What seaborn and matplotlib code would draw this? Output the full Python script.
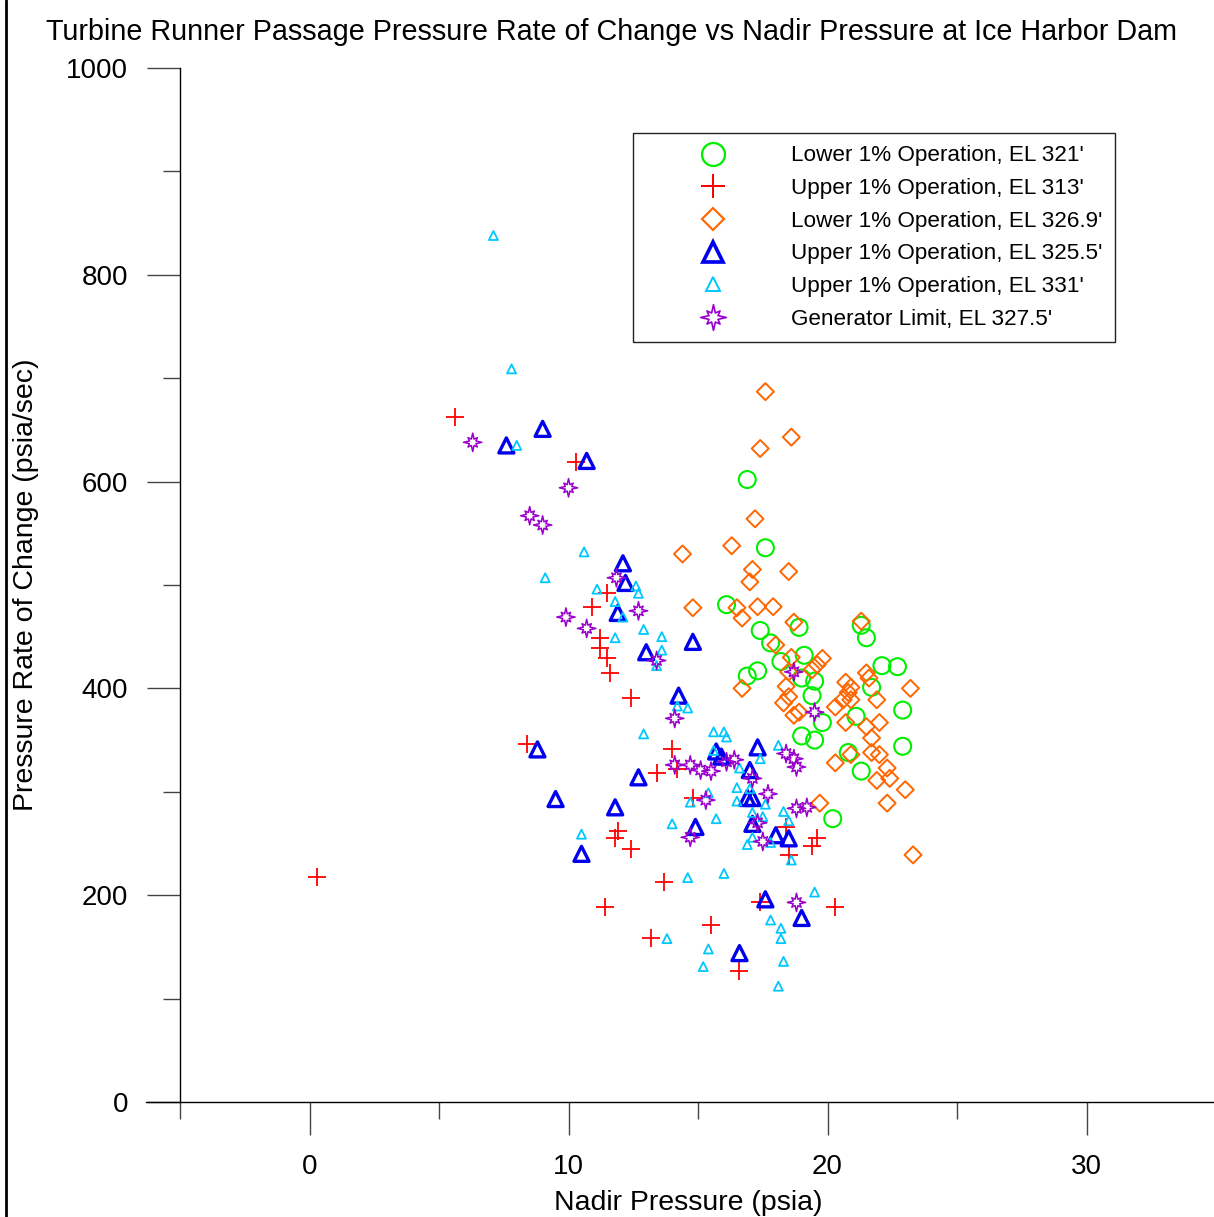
import numpy as np
import pandas as pd
import matplotlib
matplotlib.use("Agg")
import matplotlib.pyplot as plt
import seaborn as sns
from matplotlib.path import Path
from matplotlib.lines import Line2D

# nadir pressure (psia) / rate of change (psia/sec)
low321_x = [16.9, 17.6, 16.1, 17.4, 17.8, 18.9, 21.3, 21.5, 19.1, 18.2, 22.1, 22.7, 16.9, 17.3,
            19.5, 19.0, 19.4, 21.7, 22.9, 21.1, 19.8, 19.0, 19.5, 20.8, 22.9, 21.3, 20.2]
low321_y = [602, 536, 481, 456, 444, 459, 461, 449, 432, 426, 422, 421, 412, 417,
            407, 410, 393, 401, 379, 373, 367, 354, 350, 338, 344, 320, 274]

up313_x = [0.3, 5.6, 10.3, 8.4, 11.5, 10.9, 11.2, 11.2, 11.5, 11.6, 12.4, 11.9, 11.8, 12.4, 11.4,
           13.2, 14.0, 13.4, 14.2, 14.8, 18.4, 19.4, 19.6, 18.5, 13.7, 15.5, 17.4, 16.6, 20.3]
up313_y = [218, 662, 619, 346, 492, 479, 449, 439, 429, 415, 391, 262, 255, 245, 189,
           159, 341, 318, 322, 294, 266, 248, 255, 239, 213, 171, 193, 127, 189]

low3269_x = [17.6, 18.6, 17.4, 17.2, 16.3, 14.4, 17.1, 17.0, 18.5, 14.8, 16.5, 16.7, 17.3, 17.9,
             18.7, 21.3, 18.0, 18.6, 19.8, 19.6, 19.4, 16.7, 20.7, 20.9, 21.5, 21.6, 20.8, 20.6,
             20.9, 20.3, 23.2, 21.9, 20.7, 22.0, 21.5, 21.7, 21.7, 22.0, 20.9, 20.3, 22.3, 21.9,
             22.4, 23.0, 22.3, 19.7, 23.3, 18.4, 18.5, 18.3, 18.7, 18.9, 18.5]
low3269_y = [687, 643, 632, 564, 538, 530, 515, 503, 513, 478, 478, 468, 479, 479,
             464, 465, 442, 430, 429, 423, 418, 400, 406, 401, 415, 410, 396, 389,
             389, 382, 400, 389, 367, 367, 363, 352, 338, 336, 336, 328, 323, 311,
             313, 302, 289, 289, 239, 402, 392, 386, 374, 377, 416]

up3255_x = [7.6, 9.0, 10.7, 12.1, 12.2, 11.9, 13.0, 14.8, 14.25, 8.8, 12.7, 9.5, 11.8, 10.5,
            17.3, 15.7, 15.9, 17.0, 16.9, 17.1, 14.9, 17.1, 18.0, 18.5, 17.6, 19.0, 16.6]
up3255_y = [635, 651, 620, 521, 502, 473, 435, 445, 393, 341, 314, 293, 285, 240,
            343, 339, 334, 321, 294, 294, 266, 269, 258, 255, 196, 178, 144]

up331_x = [7.1, 7.8, 8.0, 9.1, 10.6, 11.1, 12.6, 12.7, 11.8, 12.1, 12.9, 11.8, 13.6, 13.6, 13.4,
           14.2, 14.6, 12.9, 15.6, 16.0, 16.1, 15.6, 18.1, 17.4, 16.6, 16.5, 17.0, 16.5, 17.6,
           18.3, 18.5, 17.5, 17.1, 14.7, 15.4, 14.0, 15.7, 17.1, 16.9, 17.8, 18.6, 16.0, 14.6,
           19.5, 17.8, 18.2, 18.2, 13.8, 15.4, 15.2, 18.3, 18.1, 10.5]
up331_y = [838, 709, 635, 507, 532, 496, 499, 492, 484, 469, 457, 449, 450, 437, 422,
           383, 381, 356, 358, 358, 353, 340, 345, 332, 323, 304, 303, 291, 288,
           281, 272, 276, 280, 290, 299, 269, 274, 256, 249, 251, 234, 221, 217,
           203, 176, 168, 158, 158, 148, 131, 136, 112, 259]

gen_x = [6.3, 8.5, 9.0, 10.0, 9.9, 10.7, 11.85, 12.7, 13.4, 14.1, 14.1, 14.7, 15.1, 15.5, 16.1,
         16.4, 15.3, 14.7, 17.1, 17.7, 17.3, 17.5, 18.4, 18.7, 18.8, 18.8, 19.2, 19.5, 18.8, 18.7]
gen_y = [638, 567, 558, 594, 469, 458, 507, 475, 427, 371, 326, 326, 321, 320, 329,
         331, 292, 256, 313, 298, 270, 252, 337, 332, 324, 284, 285, 377, 193, 416]

labels = ["Lower 1% Operation, EL 321'", "Upper 1% Operation, EL 313'",
          "Lower 1% Operation, EL 326.9'", "Upper 1% Operation, EL 325.5'",
          "Upper 1% Operation, EL 331'", "Generator Limit, EL 327.5'"]

# 8 point star marker, long spikes on the axes
ang = np.deg2rad(90 + 22.5 * np.arange(16))
rad = np.tile([1.0, 0.38, 0.72, 0.38], 4)
star_verts = np.column_stack([rad * np.cos(ang), rad * np.sin(ang)])
star = Path(np.vstack([star_verts, star_verts[:1]]), closed=True)

sns.set_theme(style="white")
plt.rcParams["font.family"] = ["Liberation Sans", "DejaVu Sans"]
plt.rcParams["text.color"] = "black"
plt.rcParams["axes.labelcolor"] = "black"

W, H = 1214, 1217
fig = plt.figure(figsize=(W / 100, H / 100), dpi=100)
ax = fig.add_axes([146 / W, 115 / H, 1068 / W, 1034 / H])

# series: x, y, marker, size, colour, linewidth, legend markersize
series = [
    (low321_x, low321_y, "o", 149, "#00ee00", 1.5, 16.5),
    (up313_x, up313_y, "+", 168, "#ff0000", 1.3, 17),
    (low3269_x, low3269_y, "D", 75, "#ff6600", 1.4, 11.7),
    (up3255_x, up3255_y, "^", 117, "#0000ee", 2.4, 15),
    (up331_x, up331_y, "^", 42, "#00c8ff", 1.3, 10),
    (gen_x, gen_y, star, 175, "#9900cc", 1.1, 18.5),
]

handles = []
for (xs, ys, mk, s, col, lw, ms), lab in zip(series, labels):
    if mk == "+":
        sns.scatterplot(x=xs, y=ys, marker=mk, s=s, color=col, linewidth=lw, ax=ax)
    else:
        sns.scatterplot(x=xs, y=ys, marker=mk, s=s, color=col, facecolor="none",
                        edgecolor=col, linewidth=lw, ax=ax)
    handles.append(Line2D([], [], linestyle="none", marker=mk, markersize=ms,
                          markerfacecolor="none", markeredgecolor=col,
                          markeredgewidth=lw * 1.1, color=col, label=lab))

ax.set_xlim(-6.313, 34.92)
ax.set_ylim(0, 1000)
ax.spines["left"].set_position(("data", -5))
ax.spines["left"].set_bounds(0, 1000)
ax.spines["top"].set_visible(False)
ax.spines["right"].set_visible(False)
for sp in ["left", "bottom"]:
    ax.spines[sp].set_color("black")
    ax.spines[sp].set_linewidth(1.0)

ax.set_xticks([0, 10, 20, 30])
ax.set_xticks([-5, 5, 15, 25], minor=True)
ax.set_yticks([0, 200, 400, 600, 800, 1000])
ax.set_yticks([100, 300, 500, 700, 900], minor=True)
ax.tick_params(which="major", direction="out", length=24, width=1, color="#444444",
               labelsize=20, pad=13.5, labelcolor="black")
ax.tick_params(which="minor", direction="out", length=12.2, width=1, color="#444444")
ax.tick_params(left=True, bottom=True, which="both")

ax.set_xlabel("Nadir Pressure (psia)", fontsize=20.5, color="black")
ax.set_ylabel("Pressure Rate of Change (psia/sec)", fontsize=20.5, color="black")
ax.xaxis.set_label_coords(0.5075, -0.085)
ax.yaxis.set_label_coords(-0.1, 0.5)

fig.text(612 / W, 1 - 32 / H,
         "Turbine Runner Passage Pressure Rate of Change vs Nadir Pressure at Ice Harbor Dam",
         ha="center", va="center", fontsize=20.7, color="black")

leg = ax.legend(handles=handles, loc="upper right", bbox_to_anchor=(1115 / W, 1 - 133 / H),
                bbox_transform=fig.transFigure, borderaxespad=0, fontsize=16.2,
                frameon=True, fancybox=False, framealpha=1, edgecolor="#222222",
                borderpad=0.55, handlelength=6.0, handletextpad=0.5, labelspacing=0.52,
                numpoints=1)
leg.get_frame().set_linewidth(1.0)
for t in leg.get_texts():
    t.set_color("black")

# frame line down the left edge of the picture
fig.add_artist(Line2D([6 / W, 6 / W], [0, 1], transform=fig.transFigure, color="black", lw=2))

fig.savefig("out.png", dpi=100)
